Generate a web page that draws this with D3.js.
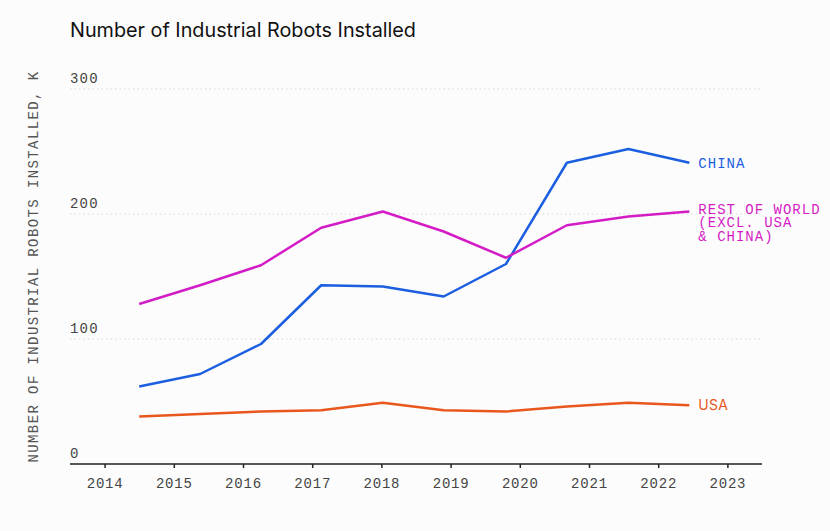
<!DOCTYPE html>
<html lang="en">
<head>
<meta charset="utf-8">
<title>Number of Industrial Robots Installed</title>
<script src="https://cdn.jsdelivr.net/npm/d3@7/dist/d3.min.js"></script>
<style>
body{margin:0;background:#fcfcfc;}
.tick text{font-family:"Liberation Mono","DejaVu Sans Mono",monospace;font-size:14px;fill:#444;letter-spacing:0.8px;}
</style>
</head>
<body>
<div id="main"></div>
<script>
// data positions (x in axis-year units)
var xs = [2014.5, 2015.38, 2016.26, 2017.13, 2018.02, 2018.9, 2019.8, 2020.68, 2021.57, 2022.45]
var china = [62, 72, 96, 143, 142, 134, 160, 241, 252, 241]
var rest = [128, 143, 159, 189, 202, 186, 165, 191, 198, 202]
var usa = [38, 40, 42, 43, 49, 43, 42, 46, 49, 47]
var yearTicks = [2014, 2015, 2016, 2017, 2018, 2019, 2020, 2021, 2022, 2023]
var yTicks = [0, 100, 200, 300]

var width = 830, height = 531
var pLeft = 70, pRight = 762, pTop = 89, pBottom = 464

var svg = d3.select("#main").append("svg").attr("width", width).attr("height", height)

var x = d3.scaleLinear().domain([2013.5, 2023.5]).range([pLeft, pRight])
var y = d3.scaleLinear().domain([0, 300]).range([pBottom, pTop])

svg.append("text").attr("x", 70).attr("y", 37)
  .style("font-family", "Inter, 'Noto Sans', sans-serif").style("font-size", "19.8px").attr("fill", "#111")
  .text("Number of Industrial Robots Installed")

// grid
svg.selectAll("line.grid").data(yTicks.slice(1)).enter().append("line")
  .attr("class", "grid")
  .attr("x1", pLeft).attr("x2", pRight)
  .attr("y1", function(d){return y(d)}).attr("y2", function(d){return y(d)})
  .attr("stroke", "#d6d6d6").attr("stroke-dasharray", "1.5,3")

svg.selectAll("text.ylab").data(yTicks).enter().append("text")
  .attr("class", "ylab")
  .attr("x", pLeft).attr("y", function(d){return y(d) - 6})
  .style("font-family", "'Liberation Mono','DejaVu Sans Mono',monospace").style("font-size", "14px")
  .attr("letter-spacing", "1.2px")
  .attr("fill", "#444").text(function(d){return d})

svg.append("text")
  .attr("transform", "translate(38," + ((pTop + pBottom) / 2 - 10) + ") rotate(-90)")
  .attr("text-anchor", "middle")
  .style("font-family", "'Liberation Mono','DejaVu Sans Mono',monospace").style("font-size", "14px")
  .attr("fill", "#555").attr("letter-spacing", "1.4px")
  .text("NUMBER OF INDUSTRIAL ROBOTS INSTALLED, K")

var xAxis = svg.append("g").attr("transform", "translate(0," + pBottom + ")")
  .call(d3.axisBottom(x).tickValues(yearTicks).tickFormat(d3.format("d")).tickSize(4).tickPadding(10))
xAxis.select(".domain").attr("stroke", "#222").attr("stroke-width", 1.5).attr("d", "M" + pLeft + ",0H" + pRight)
xAxis.selectAll(".tick line").attr("stroke", "#222").attr("stroke-width", 1.5)

var line = d3.line().x(function(d, i){return x(xs[i])}).y(function(d){return y(d)})

var series = [
  {name: "china", values: china, color: "#1b5fe0", label: ["CHINA"], mono: true, dy: 5},
  {name: "rest", values: rest, color: "#d41cc6", label: ["REST OF WORLD", "(EXCL. USA", "& CHINA)"], mono: true, dy: 2},
  {name: "usa", values: usa, color: "#e8571b", label: ["USA"], mono: false, dy: 5}
]

series.forEach(function(s){
  svg.append("path").datum(s.values)
    .attr("fill", "none").attr("stroke", s.color).attr("stroke-width", 2.5)
    .attr("stroke-linejoin", "round").attr("d", line)
  var last = s.values[s.values.length - 1]
  var t = svg.append("text")
    .attr("x", x(xs[xs.length - 1]) + 9).attr("y", y(last) + s.dy)
    .attr("fill", s.color)
    .style("font-family", s.mono ? "'Liberation Mono','DejaVu Sans Mono',monospace" : "Inter,'Noto Sans',sans-serif")
    .style("font-size", "14px")
    .attr("letter-spacing", s.mono ? "1px" : "0.3px")
  s.label.forEach(function(l, i){
    t.append("tspan").attr("x", x(xs[xs.length - 1]) + 9).attr("dy", i == 0 ? 0 : 13.5).text(l)
  })
})
</script>
</body>
</html>
